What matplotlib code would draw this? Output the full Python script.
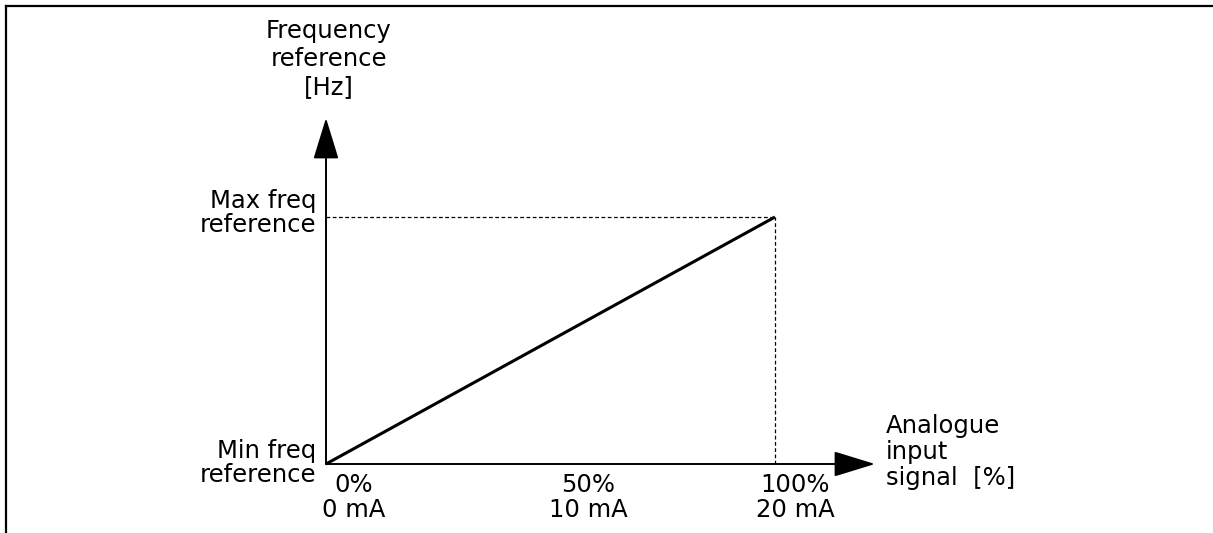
import matplotlib
matplotlib.use("Agg")
import matplotlib.pyplot as plt
from matplotlib.lines import Line2D

# input signal in %, frequency reference normalised min=0 .. max=1
signal_pct = [0, 100]
freq_ref = [0.0, 1.0]
tick_pct = [0, 50, 100]
tick_labels = ["0%\n0 mA", "50%\n10 mA", "100%\n20 mA"]
tick_shift_px = [28, 38, 20]

W, H = 1213, 533
x0_px, y0_px = 326, 464      # origin of diagram
x1_px, y1_px = 775, 217      # 100% / max freq

plt.rcParams['font.family'] = ['DejaVu Sans']

fig = plt.figure(figsize=(W / 100, H / 100), dpi=100)
ax = fig.add_axes([0, 0, 1, 1])
ax.axis('off')

# map pixels so that 0..100 % and 0..1 fall where the reference draws them
sx = (x1_px - x0_px) / 100.0
sy = (y0_px - y1_px) / 1.0
ax.set_xlim(-x0_px / sx, (W - x0_px) / sx)
ax.set_ylim((y0_px - H) / sy, y0_px / sy)

def fx(px):
    return px / W

def fy(py):
    return 1 - py / H

fs = 17.5
black = '#000000'

# axes with arrows
x_tip = (875 - x0_px) / sx
y_tip = (y0_px - 118) / sy
arrow = dict(arrowstyle='-|>,head_length=2.6,head_width=0.8', mutation_scale=10,
             color=black, lw=1.4, shrinkA=0, shrinkB=0)
ax.annotate('', xy=(0, y_tip), xytext=(0, 0), arrowprops=arrow)
ax.annotate('', xy=(x_tip, 0), xytext=(0, 0), arrowprops=arrow)

# dashed guides to the max point
ax.plot([0, signal_pct[1]], [freq_ref[1], freq_ref[1]], color=black, lw=0.9, ls=(0, (3, 2)))
ax.plot([signal_pct[1], signal_pct[1]], [0, freq_ref[1]], color=black, lw=0.9, ls=(0, (3, 2)))

# ramp
ax.plot(signal_pct, freq_ref, color=black, lw=2.2, solid_capstyle='butt')

# labels
ax.text(fx(329), fy(59), "Frequency\nreference\n[Hz]", transform=ax.transAxes,
        ha='center', va='center', fontsize=fs, linespacing=1.22)
ax.text(fx(316), fy(213), "Max freq\nreference", transform=ax.transAxes,
        ha='right', va='center', fontsize=fs, linespacing=1.02)
ax.text(fx(316), fy(463), "Min freq\nreference", transform=ax.transAxes,
        ha='right', va='center', fontsize=fs, linespacing=1.02)
ax.text(fx(886), fy(452), "Analogue\ninput\nsignal  [%]", transform=ax.transAxes,
        ha='left', va='center', fontsize=fs, linespacing=1.12)

for p, lab, dx in zip(tick_pct, tick_labels, tick_shift_px):
    ax.annotate(lab, xy=(p, 0), xytext=(dx, -9), textcoords='offset pixels',
                ha='center', va='top', fontsize=fs, linespacing=1.05,
                multialignment='center')

# frame (top and left edges)
fig.add_artist(Line2D([fx(6), 1], [fy(6), fy(6)], transform=fig.transFigure, color=black, lw=1.6))
fig.add_artist(Line2D([fx(6), fx(6)], [fy(6), 0], transform=fig.transFigure, color=black, lw=1.6))

fig.savefig("out.png", dpi=100, facecolor='white')
